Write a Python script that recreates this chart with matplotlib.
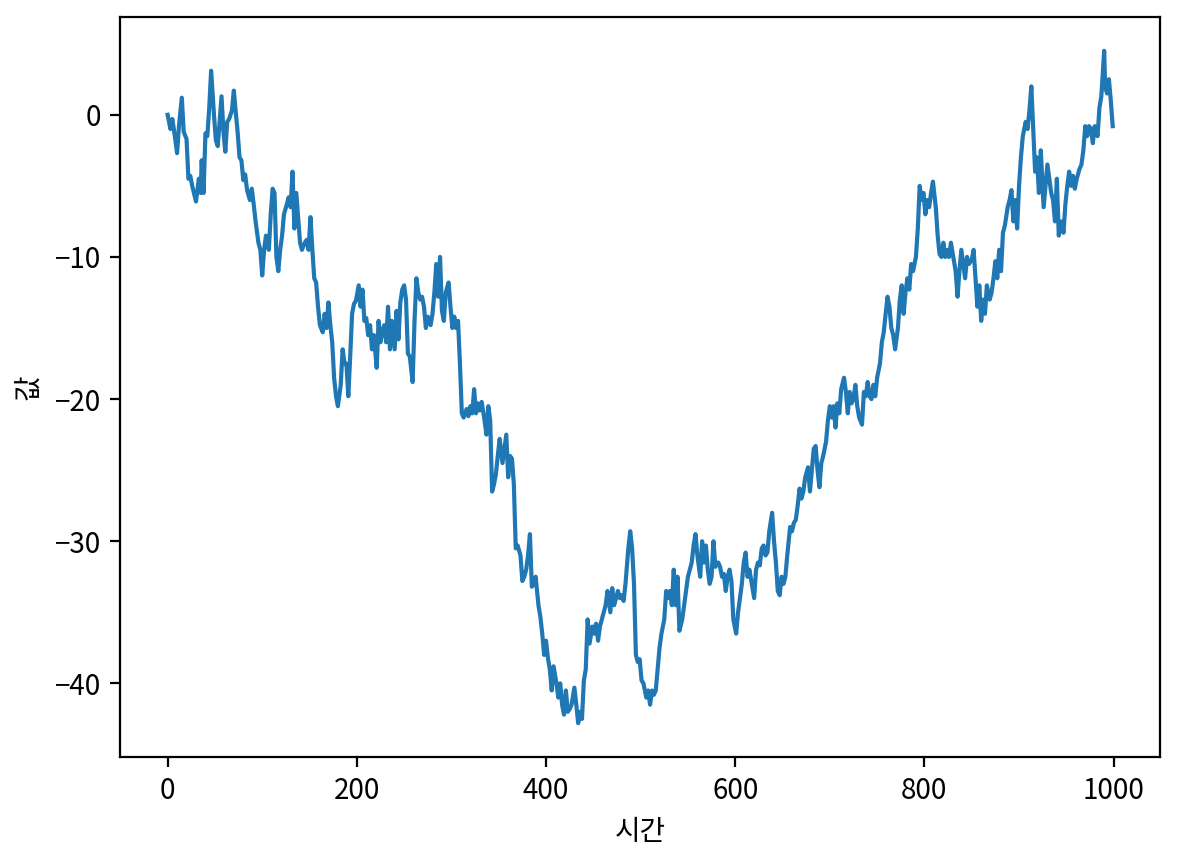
import matplotlib
matplotlib.use("Agg")
import matplotlib.pyplot as plt

plt.rcParams['font.family'] = ['Noto Sans CJK KR', 'DejaVu Sans']
plt.rcParams['axes.unicode_minus'] = True

# time steps and values
t = [0, 3, 5, 7, 10, 12, 15, 17, 20, 22, 24, 26, 30, 33, 35, 36, 38, 40, 42, 44,
     46, 49, 51, 53, 55, 57, 59, 61, 63, 65, 68, 70, 72, 74, 76, 78, 80, 82, 84, 87,
     89, 91, 93, 96, 98, 100, 102, 104, 107, 109, 111, 113, 115, 117, 119, 121, 123, 126, 128, 130,
     132, 134, 136, 138, 140, 142, 145, 147, 149, 151, 153, 155, 157, 159, 161, 164, 166, 168, 170, 172,
     174, 176, 178, 180, 183, 185, 187, 189, 191, 193, 195, 197, 199, 202, 204, 206, 208, 210, 212, 214,
     216, 218, 221, 223, 225, 227, 229, 231, 233, 235, 237, 240, 242, 244, 246, 248, 250, 252, 254, 256,
     259, 261, 263, 265, 267, 269, 271, 273, 275, 278, 280, 282, 284, 286, 288, 290, 292, 294, 297, 299,
     301, 303, 305, 307, 309, 311, 313, 316, 318, 320, 322, 324, 326, 328, 330, 332, 335, 337, 339, 341,
     343, 345, 347, 349, 351, 354, 356, 358, 360, 362, 364, 366, 368, 370, 373, 375, 377, 379, 381, 383,
     385, 387, 389, 392, 394, 396, 398, 400, 402, 404, 406, 408, 411, 413, 415, 417, 419, 421, 423, 425,
     427, 430, 432, 434, 436, 438, 440, 442, 444, 446, 449, 451, 453, 455, 457, 459, 461, 463, 465, 468,
     470, 472, 474, 476, 478, 480, 482, 484, 487, 489, 491, 493, 495, 497, 499, 501, 503, 506, 508, 510,
     512, 514, 516, 518, 520, 522, 525, 527, 529, 531, 533, 535, 537, 539, 541, 544, 546, 548, 550, 552,
     554, 556, 558, 560, 563, 565, 567, 569, 571, 573, 575, 577, 579, 582, 584, 586, 588, 590, 592, 594,
     596, 598, 601, 603, 605, 607, 609, 611, 613, 615, 617, 620, 622, 624, 626, 628, 630, 632, 634, 636,
     639, 641, 643, 645, 647, 649, 651, 653, 655, 658, 660, 662, 664, 666, 668, 670, 672, 674, 677, 679,
     681, 683, 685, 687, 689, 691, 693, 696, 698, 700, 702, 704, 706, 708, 710, 712, 715, 717, 719, 721,
     723, 725, 727, 729, 731, 734, 736, 738, 740, 742, 744, 746, 748, 750, 753, 755, 757, 759, 761, 763,
     765, 767, 769, 772, 774, 776, 778, 780, 782, 784, 786, 788, 791, 793, 795, 797, 799, 801, 803, 805,
     807, 809, 812, 814, 816, 818, 820, 822, 824, 826, 828, 831, 833, 835, 837, 839, 841, 843, 845, 847,
     850, 852, 854, 856, 858, 860, 862, 864, 866, 869, 871, 873, 875, 877, 879, 881, 883, 885, 888, 890,
     892, 894, 896, 898, 900, 902, 904, 907, 909, 911, 913, 915, 917, 919, 921, 923, 926, 928, 930, 932,
     934, 936, 938, 940, 942, 945, 947, 949, 951, 953, 955, 957, 959, 961, 964, 966, 968, 970, 972, 974,
     976, 978, 980, 983, 985, 987, 989, 990, 991, 993, 995, 997, 999]

values = [0, -1, -0.3, -1.2, -2.7, -0.8, 1.2, -1.2, -1.7, -4.5, -4.3, -5, -6.1, -4.5, -5.5, -3.2, -5.5, -1.3, -1.5, 0.5,
          3.1, 0, -1.8, -2.2, -0.5, 1.3, -1.2, -2.6, -0.5, -0.3, 0.3, 1.7, 0.2, -1.2, -3, -3.2, -4.6, -4.2, -5.3, -6,
          -5.2, -6.3, -7.5, -9, -9.5, -11.3, -9.5, -8.5, -9.5, -7, -5.2, -5.5, -10, -11, -9.5, -8.5, -7, -6.3, -5.8, -6.5,
          -4, -8, -5.5, -7.2, -9, -9.5, -9, -8.8, -9.5, -7.2, -9.5, -11.5, -11.8, -13.5, -14.8, -15.3, -14, -15, -13.2, -14.8,
          -16, -18.5, -19.8, -20.5, -19, -16.5, -17.5, -17.5, -19.8, -17, -14, -13.3, -13.1, -12, -13.5, -12.3, -14.5, -14.3, -15.5, -14.8,
          -16.5, -15.5, -17.8, -14.5, -16, -15.2, -14.8, -16, -13.5, -16.5, -14.5, -16.5, -13.8, -15.8, -13.2, -12.3, -12, -13, -16.8, -17,
          -18.8, -14.5, -11.5, -12.5, -13, -12.8, -13.5, -15, -14.2, -14.8, -14, -12.5, -10.5, -12.8, -10, -13.8, -14.5, -12.5, -11.8, -13.5,
          -15, -14.2, -15, -14.5, -17.5, -21, -21.3, -20.7, -21.2, -20.5, -21, -19.3, -21, -20.3, -20.8, -20.2, -21.5, -22.5, -20.5, -21.5,
          -26.5, -26, -25.3, -24, -22.8, -24.5, -23.5, -22.5, -25.5, -24, -24.2, -26, -30.5, -30.3, -31, -32.8, -32.5, -32, -31, -29.5,
          -33.2, -33, -32.5, -34.5, -35.3, -36.5, -38, -37, -38.2, -39, -40.5, -38.8, -40, -41, -40, -41.5, -42.2, -40.5, -42, -41.8,
          -41.5, -40.3, -41.5, -42.8, -42, -42.5, -39.8, -39, -35.5, -37.2, -36, -36.5, -35.8, -37, -36, -35.5, -35, -34.5, -33.5, -35,
          -33.3, -34.5, -34, -33.5, -34, -33.8, -34.2, -33, -30.5, -29.3, -30.5, -33, -38, -38.5, -38.3, -39.8, -40, -41, -40.5, -41.5,
          -40.5, -40.8, -40.5, -39, -37.5, -36.5, -35.5, -33.5, -34, -33.5, -34.5, -32, -34.5, -32.5, -36.3, -35.5, -34.5, -33.5, -32.5, -32,
          -31.5, -30.3, -29.5, -31, -32.5, -30, -31.5, -30.3, -32, -33, -32.5, -30, -31.8, -31.5, -31.8, -32.5, -32.3, -33.5, -32.5, -32,
          -32.8, -35.5, -36.5, -35, -34, -33, -31.5, -30.8, -32.5, -32, -32.8, -34, -32, -31.5, -31.7, -30.5, -30.3, -31, -30.8, -29.3,
          -28, -30, -31.5, -33.5, -33.8, -32.5, -33, -32.5, -31, -29, -29.3, -28.7, -28.5, -27.5, -26.3, -27, -26.5, -25.5, -24.8, -26.5,
          -25, -23.5, -23.3, -25, -26.2, -24.5, -24, -23, -21.5, -20.5, -21.3, -20.5, -22, -20.3, -21, -19.3, -18.5, -19.5, -21, -19.5,
          -20.3, -20, -19, -20.5, -21.3, -21.8, -19.5, -19.8, -18.8, -19.8, -20, -19, -19.8, -18.5, -17.5, -16, -15.3, -14, -12.8, -13.5,
          -15, -15.5, -16.5, -15, -13, -12, -14, -12.5, -11.5, -12.3, -10.5, -11, -10, -8, -5, -6, -5.5, -7, -6, -6.5,
          -5.5, -4.7, -6.5, -8.5, -9.8, -10, -9, -10, -9.5, -10, -9, -10.2, -11, -12.8, -11, -9.5, -10.5, -11.5, -10, -10.5,
          -10.2, -9.5, -11.5, -13.5, -12, -14.5, -13, -14, -12, -13, -12.5, -11.5, -10.3, -11.5, -9.5, -11, -8.3, -7.8, -6.5, -6,
          -5.3, -7.5, -6, -8, -5, -3, -1.5, -0.5, -1, 0.3, 2, -1, -4, -3, -5.5, -2.5, -6.5, -5, -3.5, -4.5,
          -5.5, -6, -7.5, -4.5, -8.5, -7.5, -8.3, -6.3, -5, -4, -5, -4.3, -5.2, -4.5, -3.8, -3.5, -2.5, -0.8, -1.5, -0.8,
          -1, -2, -0.8, -1.5, 0.5, 1.3, 3.5, 4.5, 2, 1.5, 2.5, 1, -0.8]

fig, ax = plt.subplots(figsize=(5.9, 4.3), dpi=200)
ax.plot(t, values, color='#1f77b4', linewidth=1.5)
ax.set_xlabel('시간')
ax.set_ylabel('값')
fig.subplots_adjust(left=0.102, right=0.983, top=0.980, bottom=0.120)
fig.savefig('out.png', dpi=200)
